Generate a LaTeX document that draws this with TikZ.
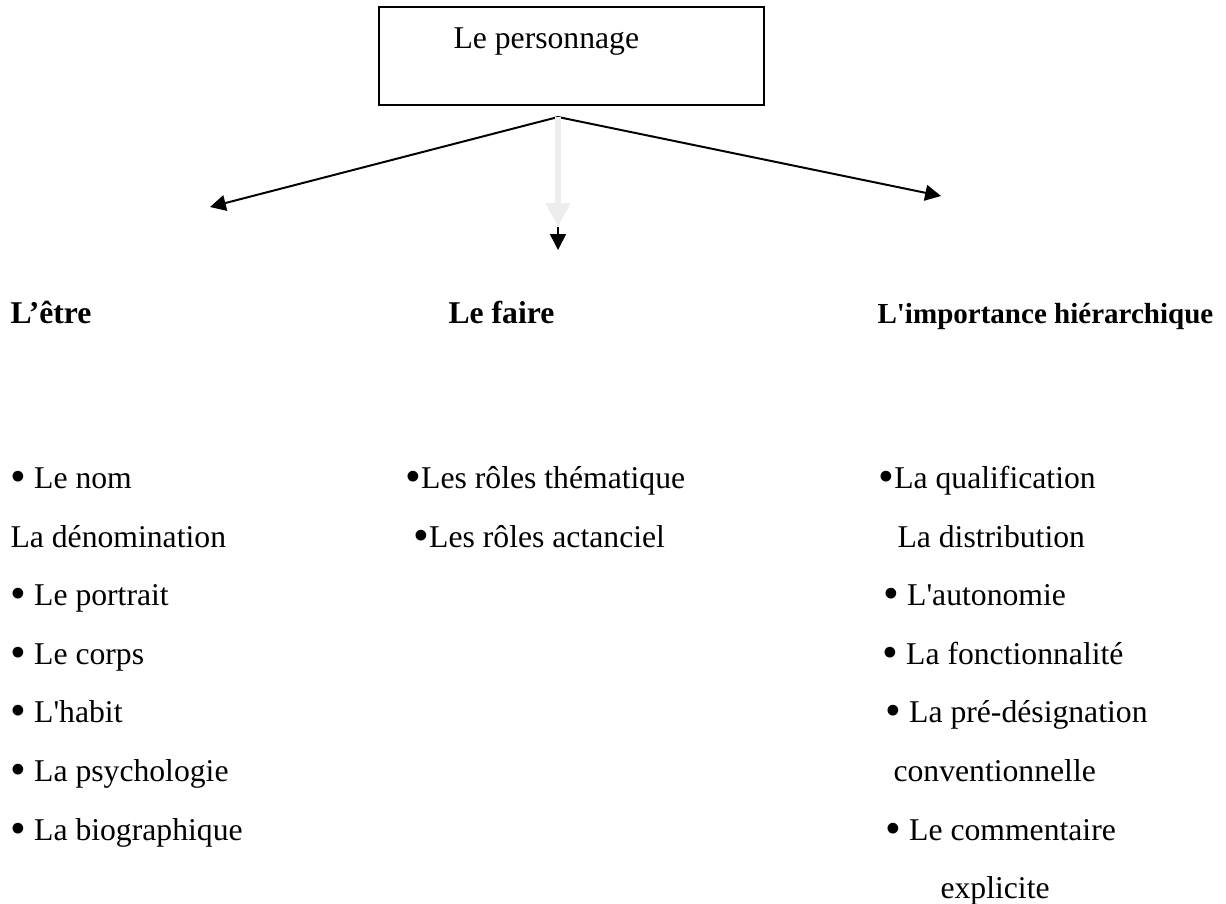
\documentclass[tikz,border=0pt]{standalone}
\usepackage{fontspec}
\newfontfamily\tnr{Liberation Serif}
\usetikzlibrary{arrows.meta,positioning}
\newcommand{\puce}{\raisebox{-1.4pt}{\fontsize{17}{17}\selectfont\textbullet}}

\begin{document}
\begin{tikzpicture}[x=0.3788pt,y=-0.3788pt,
  txt/.style={anchor=base west,inner sep=0pt,font=\tnr\fontsize{12}{14}\selectfont},
  head/.style={txt,font=\tnr\bfseries\fontsize{12}{14}\selectfont},
  arr/.style={line width=0.75pt,-{Triangle[length=6pt,width=6pt]}}]
\useasboundingbox (0,0) rectangle (1226,903);
%top box
  \node (perso) [draw,line width=0.75pt,inner sep=0pt,minimum width=145.8pt,minimum height=37.1pt] at (571.5,56) {};
  \node (titre) [txt] at (453,48) {Le personnage};
%arrow ends
  \coordinate (apex) at (558,117);
  \coordinate (gauche) at (210,207);
  \coordinate (droite) at (941,196);
  \coordinate (milieu) at (558,227);
  \coordinate (bas) at (558,250);
  \draw[arr] (apex) -- (gauche);
  \draw[arr] (apex) -- (droite);
  \draw[line width=2.6pt,black!7,-{Triangle[length=9pt,width=8.8pt]}] (apex) -- (milieu);
  \draw[line width=0.6pt,-{Triangle[length=6pt,width=6pt]}] (milieu) -- (bas);
%headings
  \node (etre) [head] at (10,323) {L’être};
  \node (faire) [head] at (448,323) {Le faire};
  \node (hier) [head,font=\tnr\bfseries\fontsize{11}{13}\selectfont] at (877,323) {L'importance hiérarchique};
%left list
  \node (l1) [txt] at (10,488) {\puce\ Le nom};
  \node (l2) [txt] at (10,547) {La dénomination};
  \node (l3) [txt] at (10,605) {\puce\ Le portrait};
  \node (l4) [txt] at (10,664) {\puce\ Le corps};
  \node (l5) [txt] at (10,722) {\puce\ L'habit};
  \node (l6) [txt] at (10,781) {\puce\ La psychologie};
  \node (l7) [txt] at (10,840) {\puce\ La biographique};
%middle list
  \node (m1) [txt] at (405,488) {\puce Les rôles thématique};
  \node (m2) [txt] at (413,547) {\puce Les rôles actanciel};
%right list
  \node (r1) [txt] at (878,488) {\puce La qualification};
  \node (r2) [txt] at (897,547) {La distribution};
  \node (r3) [txt] at (883,605) {\puce\ L'autonomie};
  \node (r4) [txt] at (882,664) {\puce\ La fonctionnalité};
  \node (r5) [txt] at (885,722) {\puce\ La pré-désignation};
  \node (r6) [txt] at (893,781) {conventionnelle};
  \node (r7) [txt] at (885,840) {\puce\ Le commentaire};
  \node (r8) [txt] at (940,898) {explicite};
\end{tikzpicture}
\end{document}
